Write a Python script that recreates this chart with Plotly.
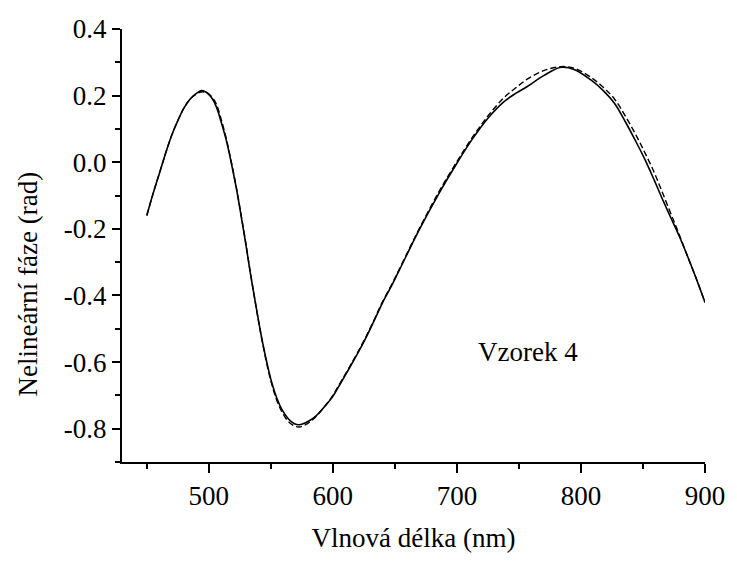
import plotly.graph_objects as go

wavelength = [450, 455, 460, 465, 470, 475, 480, 485, 490, 494, 498, 502, 506, 510, 514, 518,
              522, 526, 530, 533, 537, 540, 543, 547, 551, 555, 559, 564, 569, 573, 578, 582,
              586, 593, 600, 606, 613, 620, 626, 633, 640, 648, 655, 663, 670, 685, 700, 712,
              725, 738, 748, 757, 770, 784, 795, 808, 818, 827, 836, 845, 852, 859, 865, 872,
              879, 886, 893, 900]

phase_solid = [-0.160, -0.095, -0.035, 0.025, 0.080, 0.125, 0.163, 0.190, 0.207, 0.215, 0.210, 0.195,
               0.167, 0.120, 0.067, 0.000, -0.075, -0.160, -0.250, -0.322, -0.410, -0.474, -0.535, -0.605,
               -0.665, -0.710, -0.743, -0.770, -0.785, -0.788, -0.782, -0.774, -0.763, -0.735, -0.703, -0.665,
               -0.620, -0.574, -0.532, -0.478, -0.422, -0.366, -0.313, -0.252, -0.200, -0.097, -0.003, 0.067,
               0.132, 0.182, 0.208, 0.228, 0.260, 0.285, 0.278, 0.247, 0.215, 0.177, 0.120, 0.057,
               0.005, -0.053, -0.105, -0.163, -0.220, -0.283, -0.350, -0.421]

phase_dashed = [-0.160, -0.095, -0.035, 0.025, 0.080, 0.125, 0.163, 0.190, 0.205, 0.211, 0.209, 0.198,
                0.175, 0.128, 0.072, 0.003, -0.072, -0.158, -0.247, -0.320, -0.410, -0.476, -0.537, -0.610,
                -0.670, -0.717, -0.750, -0.778, -0.792, -0.795, -0.788, -0.778, -0.765, -0.735, -0.700, -0.662,
                -0.617, -0.571, -0.529, -0.475, -0.419, -0.363, -0.310, -0.249, -0.197, -0.092, 0.002, 0.072,
                0.139, 0.194, 0.225, 0.250, 0.275, 0.287, 0.282, 0.255, 0.225, 0.190, 0.137, 0.077,
                0.025, -0.030, -0.085, -0.150, -0.215, -0.283, -0.350, -0.421]

x_ticks = [500, 600, 700, 800, 900]
y_ticks = [-0.8, -0.6, -0.4, -0.2, 0.0, 0.2, 0.4]
y_tick_text = ["-0.8", "-0.6", "-0.4", "-0.2", "0.0", "0.2", "0.4"]

FONT = "'Liberation Serif', 'DejaVu Serif', 'Times New Roman', Times, serif"

fig = go.Figure()
fig.add_trace(go.Scatter(x=wavelength, y=phase_dashed, mode="lines",
                         line=dict(color="black", width=1.4, dash="6px,3px", shape="spline"),
                         showlegend=False))
fig.add_trace(go.Scatter(x=wavelength, y=phase_solid, mode="lines",
                         line=dict(color="black", width=1.6, shape="spline"),
                         showlegend=False))

fig.update_layout(
    width=737, height=563,
    margin=dict(l=122, r=29, t=29, b=101),
    plot_bgcolor="white", paper_bgcolor="white",
    font=dict(family=FONT, size=27, color="black"),
    showlegend=False,
)
fig.update_xaxes(
    range=[430, 900], tickvals=x_ticks, showgrid=False, zeroline=False,
    showline=True, linecolor="black", linewidth=2,
    ticks="outside", ticklen=9, tickwidth=1.5, tickcolor="black",
    minor=dict(dtick=50, tick0=450, ticks="outside", ticklen=5, tickwidth=1.5, tickcolor="black"),
    tickfont=dict(family=FONT, size=27),
    title=dict(text="Vlnová délka (nm)", font=dict(family=FONT, size=27), standoff=18),
)
fig.update_yaxes(
    range=[-0.9, 0.4], tickvals=y_ticks, ticktext=y_tick_text, showgrid=False, zeroline=False,
    showline=True, linecolor="black", linewidth=2,
    ticks="outside", ticklen=8, tickwidth=1.5, tickcolor="black",
    minor=dict(dtick=0.1, tick0=0.0, ticks="outside", ticklen=5, tickwidth=1.5, tickcolor="black"),
    tickfont=dict(family=FONT, size=27),
)
fig.add_annotation(text="Nelineární fáze (rad)", xref="paper", yref="paper",
                   x=-0.162, y=0.411, textangle=-90, showarrow=False,
                   xanchor="center", yanchor="middle", font=dict(family=FONT, size=27))
fig.add_annotation(text="Vzorek 4", xref="x", yref="y", x=715, y=-0.57,
                   showarrow=False, xanchor="left", yanchor="middle",
                   font=dict(family=FONT, size=27))

fig.write_html("out.html")
